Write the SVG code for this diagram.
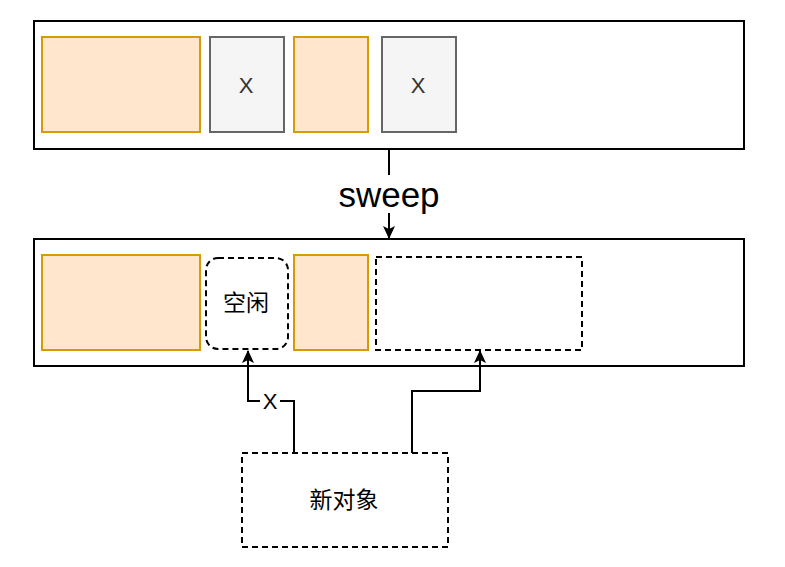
<svg xmlns="http://www.w3.org/2000/svg" width="785" height="567" viewBox="0 0 785 567">
<defs>
<style>
.cont{fill:#ffffff;stroke:#000000;stroke-width:2}
.org{fill:#ffe6cc;stroke:#d79b00;stroke-width:2}
.gry{fill:#f5f5f5;stroke:#666666;stroke-width:2}
.dash{fill:#ffffff;stroke:#000000;stroke-width:2;stroke-dasharray:6 4}
.t{font-family:"Liberation Sans","Noto Sans CJK SC",sans-serif;text-anchor:middle;dominant-baseline:central}
.edge{fill:none;stroke:#000000;stroke-width:2}
</style>
<marker id="arr" viewBox="0 0 13 12" refX="12" refY="6" markerWidth="13" markerHeight="12" markerUnits="userSpaceOnUse" orient="auto">
<path d="M0,0 L13,6 L0,12 L3,6 Z" fill="#000000"/>
</marker>
</defs>
<rect width="785" height="567" fill="#ffffff"/>
<g id="top-container">
<rect class="cont" x="34" y="21" width="710" height="128"/>
</g>
<g id="top-obj1"><rect class="org" x="42" y="37" width="158" height="95"/></g>
<g id="top-obj2"><rect class="gry" x="210" y="37" width="74" height="95"/><text class="t" x="246" y="85" font-size="22" fill="#333333">X</text></g>
<g id="top-obj3"><rect class="org" x="294" y="37" width="74" height="95"/></g>
<g id="top-obj4"><rect class="gry" x="382" y="37" width="74" height="95"/><text class="t" x="418" y="85" font-size="22" fill="#333333">X</text></g>
<g id="bottom-container">
<rect class="cont" x="34" y="239" width="710" height="127"/>
</g>
<g id="bot-obj1"><rect class="org" x="42" y="255" width="158" height="95"/></g>
<g id="bot-free"><rect class="dash" x="206" y="258" width="82" height="91" rx="12" ry="12"/><text class="t" x="246" y="303" font-size="23" fill="#000000">空闲</text></g>
<g id="bot-obj3"><rect class="org" x="294" y="255" width="74" height="95"/></g>
<g id="bot-space"><rect class="dash" x="376" y="257" width="206" height="93"/></g>
<g id="new-obj"><rect class="dash" x="242" y="453" width="206" height="94"/><text class="t" x="344" y="500" font-size="23" fill="#000000">新对象</text></g>
<g id="connectors">
<path class="edge" d="M389,149 V175"/>
<path class="edge" d="M389,213 V238" marker-end="url(#arr)"/>
<text class="t" x="389" y="194" font-size="35" fill="#000000">sweep</text>
<path class="edge" d="M294,453 V401 H248 V351" marker-end="url(#arr)"/>
<rect x="260" y="390" width="20" height="22" fill="#ffffff"/>
<text class="t" x="270" y="401" font-size="22" fill="#000000">X</text>
<path class="edge" d="M412,453 V391 H480 V351" marker-end="url(#arr)"/>
</g>
</svg>
